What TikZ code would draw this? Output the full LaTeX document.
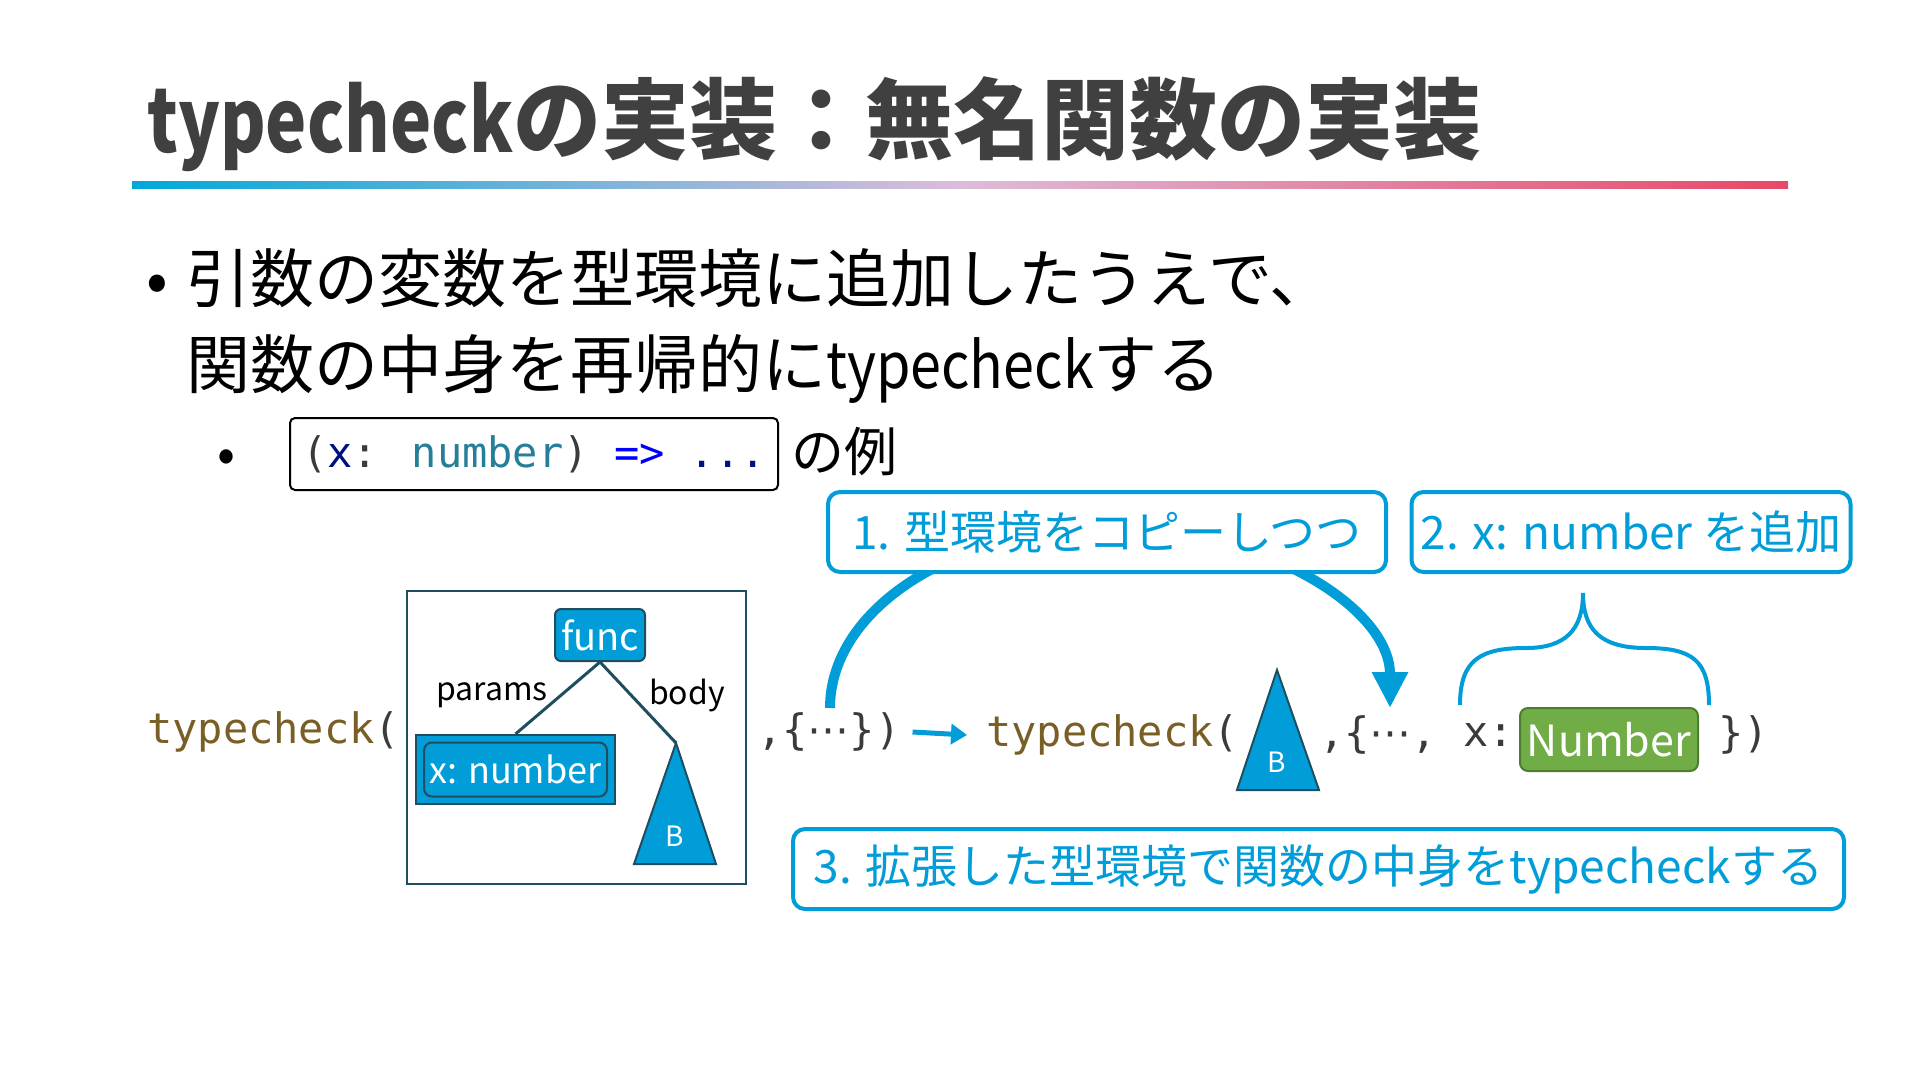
\documentclass[tikz,border=0pt]{standalone}
\usepackage{fontspec}
\setmainfont{Noto Sans CJK JP}
\newfontfamily\codefont{DejaVu Sans Mono}
\newfontfamily\symfont{DejaVu Sans}
\usetikzlibrary{arrows.meta,positioning}

\definecolor{titlegray}{HTML}{404040}
\definecolor{accent}{HTML}{009DD9}
\definecolor{darkteal}{HTML}{1F4E60}
\definecolor{fngold}{HTML}{795E26}
\definecolor{okgreen}{HTML}{70AD47}
\definecolor{okgreenline}{HTML}{4E7D31}
\definecolor{idnavy}{HTML}{001080}
\definecolor{typeteal}{HTML}{267F99}
\definecolor{kwblue}{HTML}{0000FF}
\definecolor{codegray}{HTML}{3B3B3B}
\definecolor{barcyan}{HTML}{00A9D8}
\definecolor{barlav}{HTML}{DDBCDA}
\definecolor{barred}{HTML}{E84868}

\newcommand{\fsz}[1]{\fontsize{#1}{#1}\selectfont}
\newcommand{\narrow}[2]{\scalebox{#1}[1]{#2}}

\tikzset{
  callout/.style={draw=accent, line width=4pt, rounded corners=12pt, fill=white,
    text=accent, font=\fsz{46}, inner sep=0pt, minimum height=80pt},
  treebox/.style={draw=darkteal, line width=2pt, fill=accent, text=white, inner sep=0pt},
  edge/.style={draw=darkteal, line width=3pt},
  code/.style={font=\codefont\fsz{42}, text=codegray, inner sep=0pt},
  lbl/.style={font=\fsz{32}, inner sep=0pt},
}

\begin{document}
\begin{tikzpicture}[x=1pt, y=-1pt]
        \useasboundingbox (0,0) rectangle (1920,1080);

        % title
        \node[anchor=base west, inner sep=0pt, text=titlegray, font=\bfseries\fsz{88}] (title) at (147,152) {\narrow{0.79}{typecheck}の実装：無名関数の実装};
        \shade[left color=barcyan, right color=barlav] (132,181) rectangle (960,188);
        \shade[left color=barlav, right color=barred] (959,181) rectangle (1788,188);

        % bullets
        \node[anchor=base, inner sep=0pt, font=\fsz{64}] (dot1) at (157,302) {•};
        \node[anchor=base west, inner sep=0pt, font=\fsz{64}] (line1) at (186,302) {引数の変数を型環境に追加したうえで、};
        \node[anchor=base west, inner sep=0pt, font=\fsz{64}] (line2) at (186,388) {関数の中身を再帰的に\narrow{0.87}{typecheck}する};
        \node[anchor=base, inner sep=0pt, font=\fsz{53}] (dot2) at (227,472) {•};
        \node[draw, line width=2pt, rounded corners=5pt, minimum width=488pt, minimum height=72pt, code] (lambda) at (534,454)
          {(\textcolor{idnavy}{x}: \textcolor{typeteal}{number}) \textcolor{kwblue}{=>} \textcolor{idnavy}{...}};
        \node[anchor=west, inner sep=0pt, font=\fsz{53}] (rei) at (791,452) {の例};

        % left side: typecheck(func, env)
        \node[code, anchor=west] (tc1) at (147,732) {\textcolor{fngold}{typecheck}(};
        \node[draw=darkteal, line width=2pt, minimum width=339pt, minimum height=293pt] (astbox) at (576.5,737.5) {};
        \node[treebox, rounded corners=6pt, minimum width=90pt, minimum height=52pt, font=\fsz{38}] (func) at (600,635) {func};
        \node[treebox, minimum width=199pt, minimum height=69pt] (paramsbox) at (515.5,769.5) {};
        \node[draw=darkteal, line width=2pt, rounded corners=8pt, minimum width=183pt, minimum height=54pt, text=white, font=\fsz{36}] (xparam) at (paramsbox) {x: number};
        \draw[treebox, line width=2pt] (676,743) coordinate (body1) -- (716,864) -- (634,864) -- cycle;
        \node[text=white, font=\fsz{28}, inner sep=0pt] (b1) at (675,836) {B};
        \draw[edge] (func.south) -- (paramsbox.north);
        \draw[edge] (func.south) -- (body1);
        \node[lbl] (paramslbl) at (492,695) {params};
        \node[lbl] (bodylbl) at (687,695) {body};
        \node[code, anchor=west] (env1) at (757,732) {,\{{\symfont ⋯}\})};

        % right side: typecheck(body, extended env)
        \node[code, anchor=west] (tc2) at (986,735) {\textcolor{fngold}{typecheck}(};
        \draw[accent, line width=5pt, -{Triangle[length=16pt,width=20pt]}] ([xshift=12pt]env1.east) -- ([xshift=-19pt]tc2.west);
        \draw[treebox, line width=2pt] (1277,670) coordinate (body2) -- (1319,790) -- (1237,790) -- cycle;
        \node[text=white, font=\fsz{28}, inner sep=0pt] (b2) at (1277,762) {B};
        \node[code, anchor=west] (env2) at (1319,735) {,\{{\symfont ⋯},};
        \node[code, anchor=west] (xvar) at (1463,735) {x:};
        \node[draw=okgreenline, line width=2pt, fill=okgreen, rounded corners=8pt, minimum width=178pt, minimum height=63pt, text=white, font=\fsz{43}, inner sep=0pt] (numtype) at (1609,739.5) {Number};
        \node[code, anchor=west] (close2) at (1718,735) {\})};

        % curved arrow behind callout 1
        \coordinate (envsrc) at (830,708);
        \draw[accent, line width=10pt, -{Triangle[length=36pt,width=34pt]}] (envsrc) arc[start angle=180, end angle=0, x radius=280pt, y radius=180pt] coordinate (envdst);

        % brace over x: Number
        \draw[accent, line width=4pt] (1460,705) .. controls (1460,660) and (1480,648) .. (1526,648)
          .. controls (1565,648) and (1583,630) .. (1583,593)
          .. controls (1583,630) and (1601,648) .. (1646,648)
          .. controls (1692,648) and (1709,660) .. (1709,705);

        % callouts
        \node[callout, minimum width=558pt] (copyenv) at (1107,532) {1. 型環境をコピーしつつ};
        \node[callout, minimum width=439pt] (addvar) at (1631,532) {2. x: number を追加};
        \node[callout, minimum width=1051pt] (recurse) at (1318.5,869) {3. 拡張した型環境で関数の中身をtypecheckする};
    \end{tikzpicture}
\end{document}
